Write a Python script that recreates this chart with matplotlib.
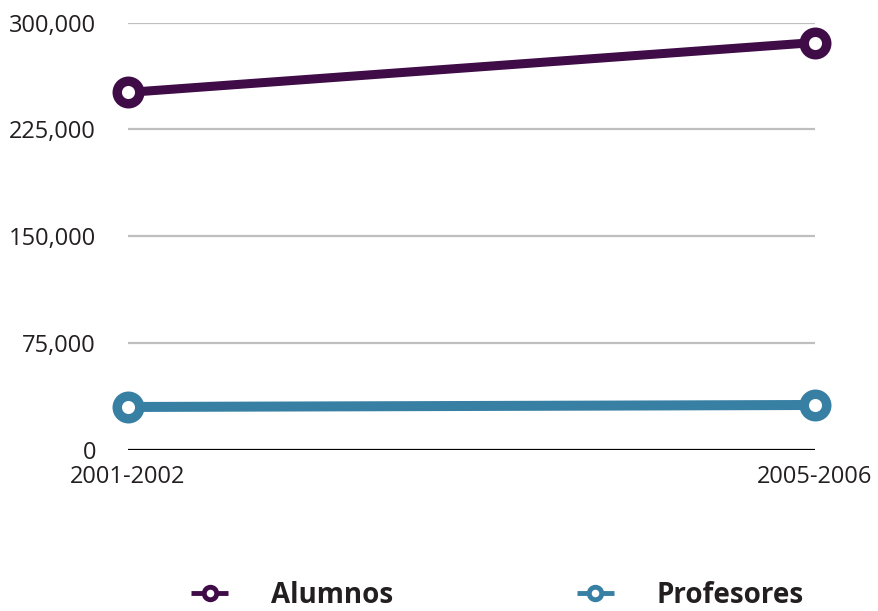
import matplotlib.pyplot as plt
from matplotlib.lines import Line2D
from matplotlib.ticker import FuncFormatter

# data
periodos = ['2001-2002', '2005-2006']
alumnos = [251000, 286100]
profesores = [29900, 31300]
yticks = [0, 75000, 150000, 225000, 300000]

c_alum = '#3f0c47'
c_prof = '#377fa3'

plt.rcParams['font.family'] = ['Open Sans', 'DejaVu Sans']

fig = plt.figure(figsize=(8.79, 6.11), dpi=100)
ax = fig.add_axes([0.1456, 0.2643, 0.927 - 0.1456, 0.9628 - 0.2643])

x = list(range(len(periodos)))
for vals, col, lw in [(alumnos, c_alum, 6.5), (profesores, c_prof, 7.2)]:
    ax.plot(x, vals, color=col, lw=lw, marker='o', ms=16.2, mew=6.8,
            mfc='white', mec=col, clip_on=False, zorder=3)

ax.set_xlim(0, 1)
ax.set_ylim(0, 300000)
ax.set_yticks(yticks)
ax.yaxis.set_major_formatter(FuncFormatter(lambda v, p: f'{int(v):,}'))
ax.set_xticks(x)
ax.set_xticklabels(periodos)

for t in yticks[1:]:
    ax.axhline(t, color='#bfbfbf', lw=1.6, zorder=1)
ax.axhline(0, color='black', lw=1.6, zorder=2)

for s in ax.spines.values():
    s.set_visible(False)
ax.tick_params(axis='both', length=0, labelsize=17, colors='#231f20')
ax.tick_params(axis='y', pad=23)
ax.tick_params(axis='x', pad=11)

handles = [
    Line2D([], [], color=c_alum, lw=3.5, marker='o', ms=9, mew=3.5, mfc='white',
           mec=c_alum, solid_capstyle='butt'),
    Line2D([], [], color=c_prof, lw=3.5, marker='o', ms=9, mew=3.5, mfc='white',
           mec=c_prof, solid_capstyle='butt'),
]
fig.legend(handles, ['Alumnos', 'Profesores'], loc='center',
           bbox_to_anchor=(0.566, 0.026), ncol=2, frameon=False,
           handlelength=1.33, handletextpad=1.55, columnspacing=6.6,
           prop={'size': 20, 'weight': 'bold'}, labelcolor='#231f20')

fig.savefig('out.png', dpi=100)
